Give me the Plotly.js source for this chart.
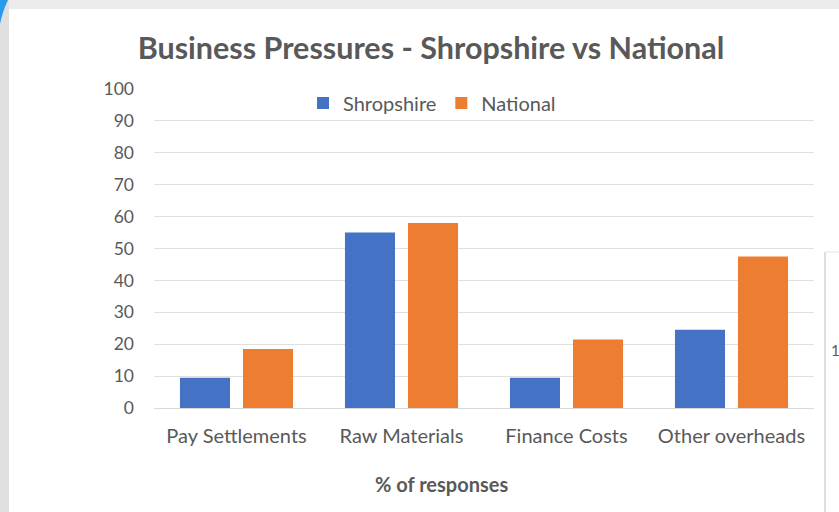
<!DOCTYPE html>
<html>
<head>
<meta charset="utf-8">
<script src="https://cdn.plot.ly/plotly-3.0.1.min.js"></script>
<style>
html,body{margin:0;padding:0;background:#fff;}
#chart{width:839px;height:512px;}
</style>
</head>
<body>
<div id="chart"></div>
<script>
// ---- data ----
const categories = ["Pay Settlements", "Raw Materials", "Finance Costs", "Other overheads"];
const shropshire = [9.5, 55, 9.5, 24.5];
const national = [18.5, 58, 21.5, 47.5];
const seriesNames = ["Shropshire", "National"];
const yTickVals = [0, 10, 20, 30, 40, 50, 60, 70, 80, 90, 100];
const chartTitle = "Business Pressures - Shropshire vs National";
const axisTitle = "% of responses";

// ---- layout helpers (pixel -> paper) ----
const W = 839, H = 512, ML = 154, MR = 25, MT = 89, MB = 104;
const PW = W - ML - MR, PH = H - MT - MB;
const px = x => (x - ML) / PW;
const py = y => (H - MB - y) / PH;

const FONT = "Lato, 'Open Sans', sans-serif";
const GREY = "#595959";

const traces = [
  {type: "bar", name: seriesNames[0], x: categories, y: shropshire,
   marker: {color: "#4472C4"}, hoverinfo: "none"},
  {type: "bar", name: seriesNames[1], x: categories, y: national,
   marker: {color: "#ED7D31"}, hoverinfo: "none"}
];

const shapes = [
  // outer frame (screenshot surroundings)
  {type: "rect", xref: "paper", yref: "paper", x0: px(0), x1: px(W), y0: py(0), y1: py(9),
   fillcolor: "#ebebeb", line: {width: 0}, layer: "below"},
  {type: "rect", xref: "paper", yref: "paper", x0: px(0), x1: px(9), y0: py(0), y1: py(H),
   fillcolor: "#e0e0e0", line: {width: 0}, layer: "below"},
  {type: "path", xref: "paper", yref: "paper",
   path: `M ${px(0)} ${py(0)} L ${px(8)} ${py(0)} Q ${px(3)} ${py(10)} ${px(0)} ${py(24)} Z`,
   fillcolor: "#2a9bea", line: {width: 0}},
  // neighbouring chart on the right
  {type: "line", xref: "paper", yref: "paper", x0: px(825), x1: px(825), y0: py(252), y1: py(H),
   line: {color: "#d4d4d4", width: 1.5}},
  {type: "line", xref: "paper", yref: "paper", x0: px(825), x1: px(W), y0: py(252), y1: py(252),
   line: {color: "#e2e2e2", width: 1}}
];

const annotations = [
  {text: axisTitle, xref: "paper", yref: "paper", x: px(441), y: py(484),
   xanchor: "center", yanchor: "middle", showarrow: false,
   font: {family: FONT, size: 20, color: GREY, weight: "bold"}},
  {text: "1", xref: "paper", yref: "paper", x: px(829), y: py(350),
   xanchor: "left", yanchor: "middle", showarrow: false,
   font: {family: FONT, size: 15, color: GREY}}
];

const layout = {
  width: W, height: H,
  margin: {l: ML, r: MR, t: MT, b: MB, pad: 0},
  paper_bgcolor: "#ffffff", plot_bgcolor: "#ffffff",
  title: {text: "<b>" + chartTitle + "</b>", xref: "container", x: 431 / W, xanchor: "center",
          y: 1 - 48 / H, yanchor: "middle",
          font: {family: FONT, size: 30.5, color: GREY}},
  barmode: "group", bargap: 0.236, bargroupgap: 0.206,
  showlegend: true,
  legend: {orientation: "h", x: px(432), xanchor: "center", y: py(103), yanchor: "middle",
           font: {family: FONT, size: 20, color: GREY}, bgcolor: "rgba(0,0,0,0)",
           itemwidth: 30, traceorder: "normal"},
  xaxis: {type: "category", showgrid: false, zeroline: false, showline: false,
          ticks: "", tickfont: {family: FONT, size: 20, color: GREY}, ticklabelstandoff: 14,
          fixedrange: true},
  yaxis: {range: [0, 100], tickvals: yTickVals, showgrid: true, gridcolor: "#e0e0e0",
          gridwidth: 1, zeroline: true, zerolinecolor: "#d9d9d9", zerolinewidth: 1,
          showline: false, ticks: "", ticklabelstandoff: 19,
          tickfont: {family: FONT, size: 17.5, color: GREY}, fixedrange: true},
  shapes: shapes, annotations: annotations
};

Plotly.newPlot("chart", traces, layout, {displayModeBar: false, staticPlot: true});
</script>
</body>
</html>
